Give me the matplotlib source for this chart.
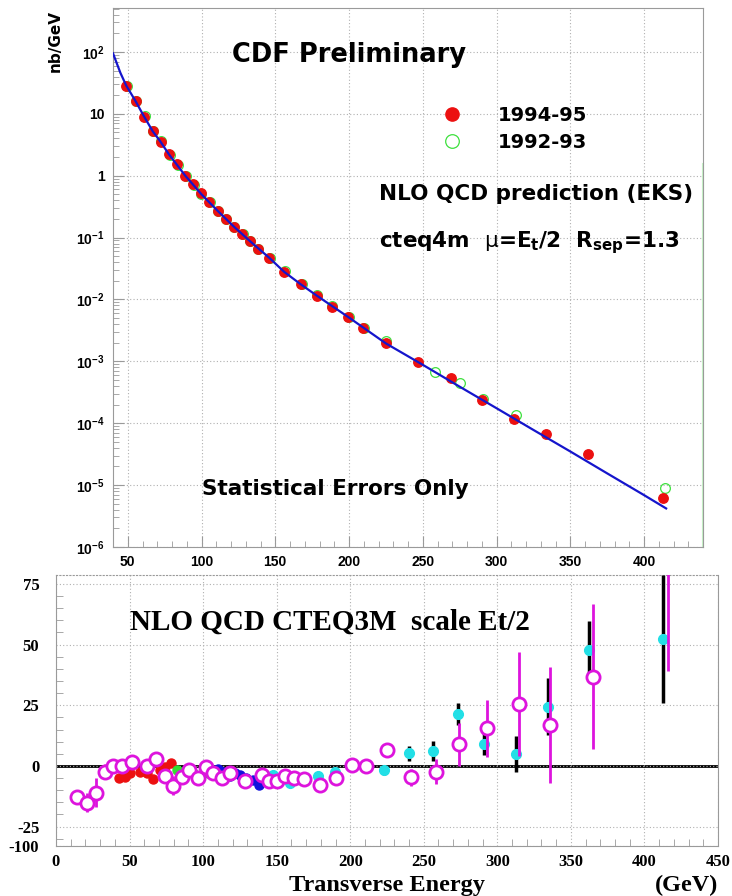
import matplotlib
matplotlib.use('Agg')
import matplotlib.pyplot as plt
from matplotlib.ticker import MultipleLocator, LogLocator, NullFormatter

plt.rcParams['mathtext.fontset'] = 'custom'
plt.rcParams['mathtext.rm'] = 'Liberation Sans:bold'
plt.rcParams['mathtext.bf'] = 'Liberation Sans:bold'
plt.rcParams['mathtext.it'] = 'Liberation Sans:bold'

# ---- top panel: inclusive jet cross section (nb/GeV) ----
et_9495 = [48.8, 55.4, 61.1, 66.8, 72.4, 78.0, 83.7, 89.1, 94.3, 99.5, 105.2, 110.9,
           116.3, 121.9, 127.5, 132.8, 138.0, 145.9, 156.0, 167.4, 178.0, 188.2,
           199.5, 209.6, 225.0, 246.9, 269.1, 290.2, 312.1, 333.6, 362.3, 412.8]
xs_9495 = [28.6, 16.3, 9.0, 5.3, 3.56, 2.25, 1.55, 1.0, 0.73, 0.52, 0.373, 0.273,
           0.198, 0.151, 0.115, 0.0885, 0.065, 0.0465, 0.0279, 0.0177, 0.01156, 0.00767,
           0.00518, 0.00344, 0.00197, 0.00097, 0.000535, 0.000239, 0.000119, 6.7e-5,
           3.17e-5, 6.2e-6]

et_9293 = [49.5, 55.8, 61.5, 67.2, 72.8, 78.4, 84.1, 89.5, 94.7, 99.9, 105.6, 111.3,
           116.7, 122.3, 127.9, 133.2, 138.4, 146.3, 156.4, 167.8, 178.4, 188.6, 199.9,
           210.0, 225.4, 258.0, 275.5, 291.0, 313.5, 414.5]
xs_9293 = [28.0, 16.0, 9.1, 5.2, 3.6, 2.2, 1.5, 1.0, 0.72, 0.51, 0.37, 0.27,
           0.2, 0.15, 0.114, 0.087, 0.066, 0.047, 0.029, 0.018, 0.0118, 0.0078, 0.0052,
           0.0035, 0.0021, 0.00068, 0.00045, 0.00025, 0.000135, 9.1e-6]

et_nlo = [40, 45, 49, 55, 61, 67, 72, 78, 89, 100, 111, 122, 133, 146, 156, 167, 178,
          200, 225, 250, 275, 300, 325, 350, 375, 400, 415]
xs_nlo = [95, 46, 28.5, 16.5, 9.1, 5.2, 3.6, 2.2, 1.0, 0.5, 0.27, 0.150, 0.087, 0.047,
          0.028, 0.0178, 0.0116, 0.0051, 0.00195, 0.00088, 3.9e-4, 1.75e-4, 7.8e-5,
          3.5e-5, 1.55e-5, 6.9e-6, 4.2e-6]

top_xticks = [50, 100, 150, 200, 250, 300, 350, 400]
top_yticks = [1e-6, 1e-5, 1e-4, 1e-3, 1e-2, 1e-1, 1, 10, 100]
top_ylabels = ['10$^{-6}$', '10$^{-5}$', '10$^{-4}$', '10$^{-3}$', '10$^{-2}$',
               '10$^{-1}$', '1', '10', '10$^{2}$']

# ---- bottom panel: (data - theory)/theory (%) ----
mag_et = [14.5, 20.8, 27.2, 33.3, 38.5, 44.6, 51.9, 61.7, 68.0, 74.1, 79.3, 85.4, 90.6,
          96.3, 101.7, 106.9, 112.6, 118.3, 128.5, 139.9, 145.0, 150.0, 155.7, 161.8,
          168.6, 179.5, 190.3, 201.0, 210.5, 225.0, 241.5, 258.0, 274.0, 293.0, 315.0,
          336.0, 365.0, 416.0]
mag_val = [-13.0, -15.1, -11.0, -2.3, 0.0, 0.0, 1.8, 0.0, 2.7, -4.1, -8.1, -4.7, -1.6,
           -5.1, -0.3, -3.0, -5.1, -3.0, -6.3, -3.7, -6.3, -6.1, -4.1, -5.1,
           -5.5, -7.8, -5.1, 0.4, 0.0, 6.6, -4.7, -2.3, 8.9, 15.5, 25.4,
           16.9, 36.8, 85.0]
mag_err = [2.5, 4, 6, 3, 2, 2, 2, 2, 2, 2, 4, 2, 2, 2, 2, 1.5, 1.5, 1.5, 1.5, 1.5, 1.5,
           1.5, 1.5, 1.5, 1.5, 1.5, 2, 2, 2, 3, 3.5, 5, 9, 11.8, 21.5, 24, 30, 46]

cyan_et = [147.7, 159.1, 178.3, 189.7, 201.4, 211.6, 223.2, 240.2, 256.5, 273.1, 291.2,
           312.7, 334.2, 362.5, 412.9]
cyan_val = [-3.7, -7.1, -4.1, -2.3, 0.4, 0.0, -1.6, 5.2, 6.2, 21.3, 8.9, 4.8, 24.4, 47.8, 52.3]
cyan_err = [1, 1, 1, 1, 1.5, 1.5, 2, 3, 4, 4.6, 4.5, 7.4, 11.7, 12, 26.5]

red_et = [43, 47, 50, 57, 62, 66, 71, 74, 78]
red_val = [-5.1, -4.5, -3.0, -2.3, -3.0, -5.5, -1.5, -0.5, 1.4]

green_et = [82, 86, 90, 94, 98, 103]
green_val = [-1.6, -2.5, -2.3, -3.5, -4.1, -3.0]

blue_et = [110, 114, 118, 122, 125, 129, 134, 138]
blue_val = [-1.4, -2.5, -4.1, -3.0, -3.7, -5.1, -5.8, -7.8]

bot_xticks = [0, 50, 100, 150, 200, 250, 300, 350, 400, 450]
bot_yticks = [-25, 0, 25, 50, 75]

W, H = 732, 896
fig = plt.figure(figsize=(W / 100, H / 100), dpi=100)


def box(x0, y0, x1, y1):
    return [x0 / W, 1 - y1 / H, (x1 - x0) / W, (y1 - y0) / H]


def ftext(x, y, s, **kw):
    return fig.text(x / W, 1 - y / H, s, **kw)


gray = '#9a9a9a'
sans_b = dict(family='DejaVu Sans', weight='bold')
tick_b = dict(family='Liberation Sans', weight='bold', size=10)
serif_b = dict(family='Liberation Serif', weight='bold')

# ================= top panel =================
ax1 = fig.add_axes(box(113, 8, 703, 547))
ax1.set_yscale('log')
ax1.set_xlim(40, 440)
ax1.set_ylim(1e-6, 10 ** 2.71)

h92, = ax1.plot(et_9293, xs_9293, 'o', mfc='none', mec='#3ee03e', ms=7, mew=0.9,
                zorder=2, label='1992-93')
h94, = ax1.plot(et_9495, xs_9495, 'o', color='#ec1010', ms=6.8, zorder=3,
                label='1994-95')
ax1.plot(et_nlo, xs_nlo, color='#1515cc', lw=1.6, zorder=4)

ax1.set_xticks(top_xticks)
ax1.set_xticklabels([str(v) for v in top_xticks], fontdict=tick_b)
ax1.xaxis.set_minor_locator(MultipleLocator(10))
ax1.set_yticks(top_yticks)
ax1.set_yticklabels(top_ylabels, fontdict=tick_b)
ax1.yaxis.set_minor_locator(LogLocator(base=10, subs=range(2, 10), numticks=20))
ax1.yaxis.set_minor_formatter(NullFormatter())
ax1.tick_params(which='both', direction='in', color=gray, top=False, right=False)
ax1.tick_params(which='major', length=8, pad=6)
ax1.tick_params(which='minor', length=4)
ax1.grid(True, which='major', ls=(0, (1, 2)), color='#b0b0b0', lw=0.8)
for s in ax1.spines.values():
    s.set_color(gray)
ax1.axvline(440, ymin=0, ymax=0.71, color='#c8f4c8', lw=1.5, clip_on=False)

leg = ax1.legend([h94, h92], ['1994-95', '1992-93'], loc='upper left',
                 bbox_to_anchor=(433 / W, 1 - 106 / H), bbox_transform=fig.transFigure,
                 frameon=False, borderpad=0, borderaxespad=0, handlelength=2.0,
                 handletextpad=1.35, labelspacing=0.42, markerscale=1.4,
                 prop=dict(family='DejaVu Sans', weight='bold', size=14))

ftext(232, 62, 'CDF Preliminary', size=18.5, va='baseline', **sans_b)
ftext(379, 200, 'NLO QCD prediction (EKS)', size=15.5, va='baseline', **sans_b)
ftext(379, 247, r'cteq4m  $\mathrm{\mu}$=E$_{\mathbf{t}}$/2  R$_{\mathbf{sep}}$=1.3',
      size=15.5, va='baseline', math_fontfamily='dejavusans', **sans_b)
ftext(202, 495, 'Statistical Errors Only', size=15.5, va='baseline', **sans_b)
ftext(55, 10, 'nb/GeV', size=11, rotation=90, ha='center', va='top', **sans_b)

# ================= bottom panel =================
ax2 = fig.add_axes(box(56, 575, 718, 846))
ax2.set_xlim(0, 450)
ax2.set_ylim(-33, 78.7)
ax2.axhline(0, color='black', lw=2, zorder=1.5)

ax2.plot(red_et, red_val, 'o', color='#ec1010', ms=6.5, zorder=2)
ax2.plot(green_et, green_val, 'o', color='#33dd33', ms=6.5, zorder=2)
ax2.plot(blue_et, blue_val, 'o', color='#1212dd', ms=6.5, zorder=2)
ax2.errorbar(cyan_et, cyan_val, yerr=cyan_err, fmt='o', color='#22dfe6', ms=7,
             ecolor='black', elinewidth=2.5, capsize=0, zorder=3)
ax2.errorbar(mag_et, mag_val, yerr=mag_err, fmt='o', mfc='white', mec='#dd14dd',
             ms=9.5, mew=2, ecolor='#dd14dd', elinewidth=2, capsize=0, zorder=4)

ybot = ax2.get_ylim()[0]
ax2.set_xticks(bot_xticks)
ax2.set_xticklabels([str(v) for v in bot_xticks], fontdict=dict(size=12, **serif_b))
ax2.xaxis.set_minor_locator(MultipleLocator(10))
ax2.set_yticks([ybot] + bot_yticks)
ax2.set_yticklabels(['-100'] + [str(v) for v in bot_yticks],
                    fontdict=dict(size=12, **serif_b))
ax2.yaxis.set_minor_locator(MultipleLocator(5))
ax2.tick_params(which='both', direction='in', color=gray, top=False, right=False)
ax2.tick_params(which='major', length=0)
ax2.tick_params(axis='x', which='major', pad=6)
ax2.tick_params(axis='y', which='major', pad=12)
ax2.tick_params(which='minor', length=5)
ax2.grid(True, which='major', ls=(0, (1, 2)), color='#b0b0b0', lw=0.8)
for s in ax2.spines.values():
    s.set_color(gray)
ax2.spines['top'].set_linestyle((0, (1, 2)))

ftext(130, 630, 'NLO QCD CTEQ3M  scale Et/2', size=21, va='baseline', **serif_b)
ftext(387, 891, 'Transverse Energy', size=17.5, ha='center', va='baseline', **serif_b)
ftext(718, 891, '(GeV)', size=17.5, ha='right', va='baseline', **serif_b)

fig.savefig('out.png', dpi=100)
